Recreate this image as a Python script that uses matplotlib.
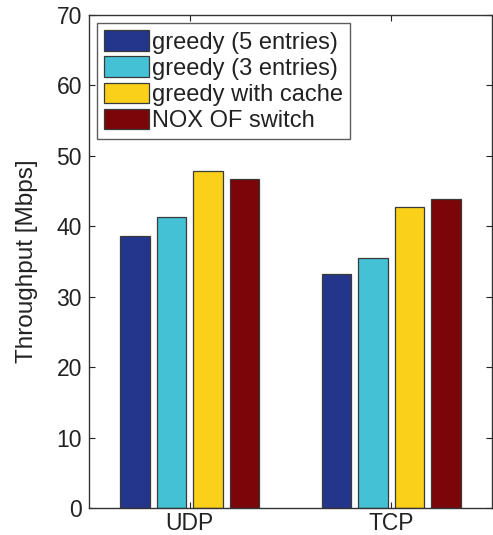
import numpy as np
import matplotlib.pyplot as plt
from matplotlib.patches import Patch

plt.rcParams["font.family"] = ["Liberation Sans", "DejaVu Sans"]

# Data
groups = ["UDP", "TCP"]
series = ["greedy (5 entries)", "greedy (3 entries)", "greedy with cache", "NOX OF switch"]
values = {
    "greedy (5 entries)": [38.6, 33.2],
    "greedy (3 entries)": [41.3, 35.5],
    "greedy with cache": [47.9, 42.8],
    "NOX OF switch": [46.7, 43.9],
}
colors = ["#24358c", "#45c1d6", "#fad01a", "#7b0508"]
y_ticks = [0, 10, 20, 30, 40, 50, 60, 70]

fig = plt.figure(figsize=(4.93, 5.35), dpi=100)
ax = fig.add_axes([0.1805, 0.0505, 0.8175, 0.9215])

x = np.arange(1, len(groups) + 1)
offsets = [-0.272, -0.091, 0.091, 0.272]
width = 0.147
for name, off, col in zip(series, offsets, colors):
    ax.bar(x + off, values[name], width, color=col, edgecolor="#3a3a3a", linewidth=0.9, zorder=2)

ax.set_xlim(0.5, 2.5)
ax.set_ylim(0, 70)
ax.set_xticks(x)
ax.set_xticklabels(groups)
ax.set_yticks(y_ticks)
ax.tick_params(direction="in", length=4, width=0.8, labelsize=16.5, colors="#222222",
               top=True, right=True, pad=5)
ax.tick_params(axis="x", pad=3)
for s in ax.spines.values():
    s.set_color("#333333")
    s.set_linewidth(1.0)
ax.set_ylabel("Throughput [Mbps]", fontsize=17.5, color="#222222")
ax.yaxis.set_label_coords(-0.126, 0.5)

handles = [Patch(facecolor=c, edgecolor="#3a3a3a", linewidth=0.9) for c in colors]
leg = ax.legend(handles, series, loc="upper left", fontsize=17, frameon=True, fancybox=False,
                handlelength=1.9, handleheight=0.95, handletextpad=0.1, labelspacing=0.12,
                borderpad=0.3, borderaxespad=0.35)
leg.get_frame().set_edgecolor("#333333")
leg.get_frame().set_linewidth(1.0)
for t in leg.get_texts():
    t.set_color("#222222")

fig.savefig("out.png", dpi=100)
